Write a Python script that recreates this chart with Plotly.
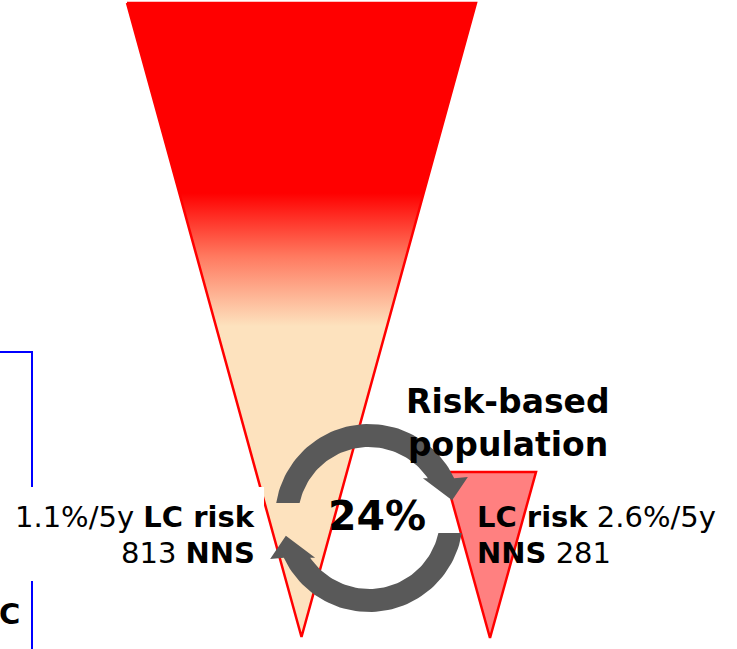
import numpy as np
import plotly.graph_objects as go

# Figures shown in the diagram
overall_share = 24          # % of screenees in the risk-based group
general_risk = 1.1          # LC risk, %/5y, whole population
general_nns = 813           # number needed to screen, whole population
risk_based_risk = 2.6       # LC risk, %/5y, risk-based population
risk_based_nns = 281        # number needed to screen, risk-based population
group_title = ["Risk-based", "population"]

W, H = 737, 649
FONT = "DejaVu Sans"
RED = "#ff0000"
PEACH = "#fde2be"
GREY = "#595959"

fig = go.Figure()


def polar(cx, cy, r, deg):
    a = np.radians(deg)
    return cx + r * np.cos(a), cy - r * np.sin(a)


def ring_arrow(cx, cy, r_in, r_out, out_start, out_end, in_end, in_start,
               head_out, tip, head_in):
    """Polygon for a curved arrow running clockwise along a ring."""
    xs, ys = [], []
    for a in np.linspace(out_start, out_end, 60):
        x, y = polar(cx, cy, r_out, a)
        xs.append(x); ys.append(y)
    for r, a in (head_out, tip, head_in):
        x, y = polar(cx, cy, r, a)
        xs.append(x); ys.append(y)
    for a in np.linspace(in_end, in_start, 60):
        x, y = polar(cx, cy, r_in, a)
        xs.append(x); ys.append(y)
    xs.append(xs[0]); ys.append(ys[0])
    return xs, ys


# Whole-population funnel (red fading to peach)
fig.add_trace(go.Scatter(
    x=[127, 476, 301.5, 127], y=[3, 3, 637, 3],
    mode="lines", fill="toself",
    line=dict(color=RED, width=2.5),
    fillgradient=dict(type="vertical", start=3, stop=637,
                      colorscale=[[0, RED], [0.3, RED], [0.4, "#ff7a60"],
                                  [0.51, PEACH], [1, PEACH]]),
    hoverinfo="skip"))

# White panel behind the left-hand labels
fig.add_trace(go.Scatter(
    x=[0, 264, 264, 0, 0], y=[487, 487, 572, 572, 487],
    mode="lines", fill="toself", fillcolor="white",
    line=dict(width=0, color="white"), hoverinfo="skip"))

# Risk-based funnel
fig.add_trace(go.Scatter(
    x=[444, 536, 490, 444], y=[472, 472, 638, 472],
    mode="lines", fill="toself", fillcolor="#ff8080",
    line=dict(color=RED, width=2.5), hoverinfo="skip"))

# Circular arrows
cx, cy, r_in, r_out = 369, 518, 71, 94
for rot in (0, 180):
    xs, ys = ring_arrow(cx, cy, r_in, r_out,
                        170.8 + rot, 25 + rot, 34 + rot, 167.8 + rot,
                        (107, 22.5 + rot), (85, 12 + rot), (67, 36.5 + rot))
    fig.add_trace(go.Scatter(x=xs, y=ys, mode="lines", fill="toself",
                             fillcolor=GREY, line=dict(width=0, color=GREY),
                             hoverinfo="skip"))

# Blue bracket lines at the left edge
fig.add_trace(go.Scatter(x=[0, 32, 32], y=[352, 352, 487], mode="lines",
                         line=dict(color="#0000ff", width=2), hoverinfo="skip"))
fig.add_trace(go.Scatter(x=[32, 32], y=[581, 649], mode="lines",
                         line=dict(color="#0000ff", width=2), hoverinfo="skip"))


def label(text, x, y, size, xanchor="center"):
    fig.add_annotation(x=x, y=y, xref="x", yref="y", text=text,
                       showarrow=False, xanchor=xanchor, yanchor="middle",
                       font=dict(family=FONT, size=size, color="black"))


label(f"{general_risk}%/5y <b>LC risk</b>", 257, 517, 29, "right")
label(f"{general_nns} <b>NNS</b>", 257, 553, 29, "right")
label(f"<b>LC risk</b> {risk_based_risk}%/5y", 475, 517, 29, "left")
label(f"<b>NNS</b> {risk_based_nns}", 475, 553, 29, "left")
label(f"<b>{overall_share}%</b>", 377, 516, 41)
label(f"<b>{group_title[0]}</b>", 508, 401, 33)
label(f"<b>{group_title[1]}</b>", 508, 444, 33)
label("<b>C</b>", 22, 614, 29, "right")

fig.update_layout(
    width=W, height=H,
    margin=dict(l=0, r=0, t=0, b=0),
    paper_bgcolor="white", plot_bgcolor="white",
    showlegend=False,
    xaxis=dict(range=[0, W], visible=False, fixedrange=True),
    yaxis=dict(range=[H, 0], visible=False, fixedrange=True),
)

fig.write_html("out.html")
